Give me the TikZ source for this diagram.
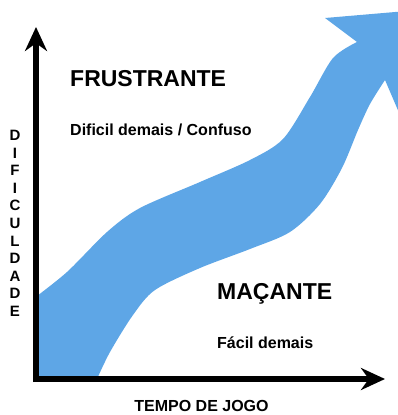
\documentclass[tikz,border=0pt]{standalone}
\usepackage{fontspec}
\setmainfont{Liberation Sans}
\usetikzlibrary{arrows.meta}
\usepackage{xcolor}
\definecolor{bandblue}{RGB}{94,166,230}

\begin{document}
\begin{tikzpicture}[
x=1pt, y=-1pt,
axis/.style={line width=6pt, -{Stealth[length=24pt, width=22pt]}},
band/.style={fill=bandblue},
title/.style={inner sep=0pt, anchor=base west, font=\fontsize{23}{27}\selectfont\bfseries},
note/.style={inner sep=0pt, anchor=base west, font=\fontsize{16}{19}\selectfont\bfseries}
]

\useasboundingbox (0,0) rectangle (398,415);
\clip (0,0) rectangle (398,415);

% faixa azul
\fill[band] (33,379) -- (97,379)
  -- plot[smooth] coordinates {(97,379) (110,352) (133,315) (155,290) (200,268) (250,249) (290,232) (320,204) (342,168) (358,130) (370,104) (385,80)}
  -- (400,115) -- (442,8) -- (325,18) -- (357,42)
  -- plot[smooth] coordinates {(357,42) (333,58) (310,97) (283,139) (250,160) (200,182) (140,208) (107,232) (67,272) (33,299)}
  -- cycle;

% eixos
\coordinate (origin) at (36,379);
\coordinate (ytip) at (36,27);
\coordinate (xtip) at (385,379);
\draw[axis] ([yshift=-3pt]origin) -- (ytip);
\draw[axis] ([xshift=-3pt]origin) -- (xtip);

\node[title] (frustrante) at (70,86) {FRUSTRANTE};
\node[note] (dificil) at (70,135) {Dificil demais / Confuso};
\node[title] (macante) at (217,299) {MAÇANTE};
\node[note] (facil) at (217,348) {Fácil demais};
\node[note, anchor=base] (tempo) at (201.5,411) {TEMPO DE JOGO};
\node[inner sep=0pt, anchor=north, align=center, font=\fontsize{15}{17.6}\selectfont\bfseries] (dificuldade) at (15,130) {D\\I\\F\\I\\C\\U\\L\\D\\A\\D\\E};

\end{tikzpicture}
\end{document}
